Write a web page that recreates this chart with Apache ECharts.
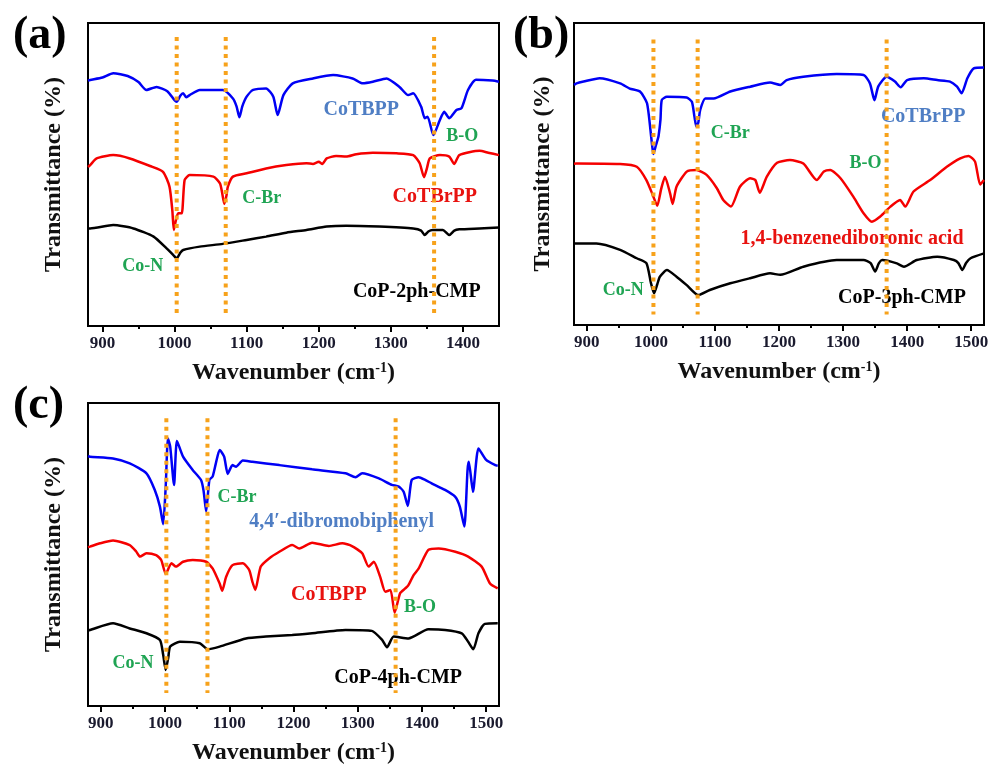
<!DOCTYPE html>
<html lang="en">
<head>
    <meta charset="UTF-8">
    <title>FTIR spectra</title>
    <script src="https://cdn.jsdelivr.net/npm/echarts@6/dist/echarts.min.js"></script>
    <style>
        body { margin: 0; background: #fff; }
        #chart { width: 993px; height: 769px; }
    </style>
</head>
<body>
<div id="chart"></div>
<script>
    // tick labels (wavenumber, cm-1)
    var ticksA = [900, 1000, 1100, 1200, 1300, 1400];
    var minorA = [950, 1050, 1150, 1250, 1350];
    var ticksBC = [900, 1000, 1100, 1200, 1300, 1400, 1500];
    var minorBC = [950, 1050, 1150, 1250, 1350, 1450];

    // (a) spectra  [wavenumber, transmittance (offset, a.u.)]
    var aBlue = [[880,81.0],[883,81.2],[900,82.0],[915,83.4],[935,82.5],[950,80.5],[961,77.9],[975,78.9],[990,77.5],[1000,74.5],[1003,74.0],[1008,76.0],[1012,76.8],[1016,75.5],[1021,76.2],[1035,77.9],[1067,77.9],[1081,75.1],[1086,72.5],[1090,68.9],[1094,72.5],[1100,75.7],[1109,77.9],[1127,78.4],[1137,75.7],[1143,69.6],[1151,76.2],[1164,80.1],[1192,81.7],[1220,82.8],[1247,81.7],[1261,80.1],[1275,80.6],[1294,81.7],[1312,78.9],[1324,76.2],[1331,76.8],[1342,72.4],[1347,68.6],[1351,69.1],[1359,63.0],[1368,68.0],[1374,70.7],[1381,68.6],[1391,71.3],[1398,71.9],[1407,77.9],[1418,81.3],[1441,81.0],[1450,80.6]];
    var aRed = [[880,52.5],[883,53.1],[892,55.3],[915,56.4],[938,55.3],[966,52.8],[984,50.9],[993,46.0],[997,38.0],[999,31.7],[1002,35.0],[1005,37.2],[1010,37.2],[1014,48.2],[1021,49.8],[1054,49.3],[1063,47.1],[1066,44.0],[1069,40.3],[1072,43.0],[1074,46.0],[1081,49.3],[1100,50.4],[1127,52.0],[1155,53.1],[1183,53.7],[1192,53.5],[1200,54.2],[1205,53.5],[1211,55.3],[1224,56.1],[1238,55.9],[1252,56.7],[1275,57.2],[1308,57.0],[1331,56.4],[1340,53.7],[1346,49.1],[1350,52.0],[1354,55.3],[1368,56.4],[1381,55.9],[1388,53.5],[1395,56.4],[1423,57.8],[1435,57.2],[1450,56.4]];
    var aBlack = [[880,32.2],[883,32.2],[915,33.3],[943,32.2],[971,29.5],[989,25.6],[998,23.5],[1003,22.3],[1008,24.2],[1012,25.1],[1035,26.2],[1067,27.1],[1100,28.4],[1127,29.5],[1155,30.8],[1183,31.7],[1211,32.8],[1238,33.1],[1284,32.8],[1331,32.2],[1342,31.5],[1347,30.0],[1352,31.2],[1358,31.7],[1372,31.7],[1381,30.0],[1388,31.5],[1395,31.9],[1423,32.2],[1450,32.5]];

    // (b) spectra
    var bBlue = [[880,79.5],[884,80.0],[895,80.6],[920,81.7],[952,80.0],[967,78.3],[983,77.3],[994,73.4],[1001,61.3],[1004,56.6],[1008,59.6],[1010,61.0],[1012,62.6],[1015,68.0],[1017,74.5],[1025,75.6],[1056,75.3],[1064,73.9],[1068,69.0],[1071,65.7],[1074,67.0],[1077,71.2],[1085,75.0],[1098,75.0],[1124,77.3],[1155,78.9],[1186,80.3],[1202,79.5],[1212,81.1],[1238,82.2],[1290,83.1],[1332,82.8],[1342,80.0],[1349,74.4],[1355,79.0],[1368,82.2],[1381,80.6],[1390,78.7],[1400,81.1],[1426,81.7],[1447,81.1],[1467,80.6],[1478,78.9],[1485,76.7],[1494,81.7],[1504,85.0],[1520,85.3]];
    var bRed = [[880,53.4],[884,53.5],[952,53.3],[978,52.4],[993,48.0],[1003,43.0],[1010,39.5],[1016,45.0],[1022,49.1],[1030,43.6],[1034,40.1],[1040,45.8],[1056,50.8],[1071,51.3],[1087,49.7],[1103,45.3],[1113,41.4],[1125,39.2],[1139,45.8],[1155,48.6],[1163,48.0],[1170,43.8],[1181,49.1],[1197,53.7],[1217,54.6],[1238,53.5],[1259,48.0],[1270,50.8],[1280,51.3],[1296,48.6],[1316,42.5],[1332,37.0],[1345,34.2],[1358,35.9],[1374,39.2],[1389,41.4],[1397,39.2],[1410,44.2],[1436,48.0],[1462,52.4],[1483,55.2],[1496,56.0],[1506,54.1],[1514,46.5],[1520,48.0]];
    var bBlack = [[880,27.0],[884,27.0],[915,27.0],[952,24.9],[978,22.1],[993,20.5],[1000,14.0],[1005,10.5],[1010,13.5],[1014,16.0],[1025,18.2],[1040,16.0],[1056,13.2],[1074,9.9],[1092,11.6],[1124,13.8],[1155,15.5],[1186,17.1],[1202,16.6],[1238,19.3],[1290,21.5],[1332,21.5],[1343,20.5],[1350,17.7],[1356,20.5],[1361,21.5],[1384,20.4],[1395,19.3],[1415,21.5],[1447,22.6],[1473,21.5],[1480,20.5],[1486,18.2],[1492,20.5],[1499,22.1],[1520,23.7]];

    // (c) spectra
    var cBlue = [[880,82.5],[883,82.3],[919,81.7],[945,80.1],[971,76.8],[984,71.3],[992,65.8],[997,60.0],[1001,72.4],[1004.5,88.3],[1008,85.6],[1014,72.9],[1018.5,87.5],[1028,82.3],[1043,77.9],[1056,74.6],[1060,71.0],[1064,64.2],[1069,74.6],[1074,75.7],[1079,80.0],[1085,84.5],[1092,82.3],[1097.6,76.6],[1105,79.5],[1110.5,79.0],[1121,81.0],[1136,80.6],[1178,79.5],[1229,78.1],[1281,76.8],[1296.6,75.5],[1307,76.8],[1333,75.1],[1353,73.0],[1364,72.4],[1371.5,70.7],[1378,66.0],[1384,74.6],[1395,75.5],[1405,74.6],[1415,73.5],[1436,71.3],[1451.6,69.1],[1459,65.8],[1466,59.2],[1471,77.9],[1473,80.6],[1479.5,70.7],[1488,85.0],[1500,81.2],[1514,79.5],[1518,79.3]];
    var cRed = [[880,52.4],[883,52.6],[899,53.7],[919,54.6],[945,53.1],[955,51.0],[961,49.3],[971,50.4],[986,49.8],[994,48.2],[1001,43.6],[1010,47.1],[1017,46.0],[1028,47.6],[1043,48.2],[1064,47.6],[1074,45.4],[1085,40.4],[1089,38.0],[1095,42.6],[1105,46.5],[1121,47.1],[1131,44.9],[1136,41.0],[1140.5,38.3],[1149,46.0],[1162,48.7],[1178,50.9],[1198,53.1],[1209,52.0],[1229,53.9],[1255,52.8],[1276,53.7],[1291,52.8],[1307,50.4],[1317,46.0],[1325,47.6],[1335,42.6],[1343,37.7],[1351,38.3],[1357.5,30.8],[1366,37.2],[1374,38.8],[1379,39.9],[1387,43.2],[1395,45.4],[1410,51.5],[1426,52.0],[1452,50.9],[1472,49.3],[1493,46.0],[1506,40.4],[1518,38.8]];
    var cBlack = [[880,25.0],[883,25.1],[919,27.3],[945,25.6],[971,24.0],[992,21.8],[997,17.0],[1001,11.9],[1005,16.0],[1008,19.6],[1023,21.2],[1054,20.7],[1066.6,18.7],[1085,19.6],[1126,22.3],[1157,22.9],[1198,23.4],[1229,24.0],[1281,25.1],[1322,24.8],[1338,21.8],[1345.6,19.4],[1356,22.9],[1379,22.3],[1410,25.3],[1436,25.1],[1462,24.0],[1472,21.2],[1480,18.7],[1488,24.0],[1498,27.1],[1518,27.3]];

    // band positions marked with dotted lines
    var bandsA = [1003, 1071, 1360];
    var bandsB = [1004, 1073, 1368];
    var bandsC = [1002, 1066, 1359];

    // text annotations [text, wavenumber, y]
    var namesA = [['CoTBPP', 1259, 71.3, 'blue'], ['CoTBrPP', 1361, 42.6, 'red'], ['CoP-2ph-CMP', 1336, 11.2, 'black'],
                  ['B-O', 1399, 62.7, 'green'], ['C-Br', 1121, 42.2, 'green'], ['Co-N', 956, 19.8, 'green']];
    var namesB = [['CoTBrPP', 1425, 68.9, 'blue'], ['1,4-benzenediboronic acid', 1314, 28.5, 'red'], ['CoP-3ph-CMP', 1392, 8.9, 'black'],
                  ['C-Br', 1124, 63.6, 'green'], ['B-O', 1335, 53.6, 'green'], ['Co-N', 957, 11.6, 'green']];
    var namesC = [['4,4\u2032-dibromobiphenyl', 1275, 60.7, 'blue'], ['CoTBPP', 1255, 36.6, 'red'], ['CoP-4ph-CMP', 1363, 9.2, 'black'],
                  ['C-Br', 1112, 69.0, 'green'], ['B-O', 1397, 32.7, 'green'], ['Co-N', 950, 14.2, 'green']];

    var FONT = 'Liberation Serif';
    var textColors = { blue: '#4f7ec4', red: '#e8120f', black: '#000', green: '#1fa453' };
    var lineColors = ['#0000f5', '#f50000', '#000'];

    var my_Chart = echarts.init(document.getElementById('chart'));

    var grids = [
        { left: 88, top: 23, width: 411, height: 303 },
        { left: 574, top: 23, width: 410, height: 302 },
        { left: 88, top: 403, width: 411, height: 303 }
    ];
    var ranges = [[880, 1450], [880, 1520], [880, 1520]];
    var majors = [ticksA, ticksBC, ticksBC];
    var minors = [minorA, minorBC, minorBC];
    var yNameGap = [22, 19, 22];

    var xAxes = [], yAxes = [], series = [];

    grids.forEach(function (g, i) {
        g.show = true;
        g.borderColor = '#000';
        g.borderWidth = 2;
        g.backgroundColor = 'transparent';

        xAxes.push({
            type: 'value', gridIndex: i, position: 'bottom', min: ranges[i][0], max: ranges[i][1],
            name: 'Wavenumber (cm{sup|-1})', nameLocation: 'middle', nameGap: 35,
            nameTextStyle: {
                fontFamily: FONT, fontWeight: 'bold', fontSize: 24, color: '#111',
                rich: { sup: { fontFamily: FONT, fontWeight: 'bold', fontSize: 14, verticalAlign: 'top', lineHeight: 14, padding: [0, 0, 12, 0] } }
            },
            axisLine: { lineStyle: { color: '#000', width: 2 } },
            axisTick: { customValues: majors[i], length: 6, lineStyle: { color: '#000', width: 2 } },
            axisLabel: {
                customValues: majors[i], fontFamily: FONT, fontWeight: 'bold', fontSize: 17, color: '#1a1a2e', margin: 9,
                formatter: function (v) { return String(v); }
            },
            splitLine: { show: false }
        });
        // minor ticks
        xAxes.push({
            type: 'value', gridIndex: i, position: 'bottom', min: ranges[i][0], max: ranges[i][1],
            axisLine: { show: false },
            axisTick: { customValues: minors[i], length: 3, lineStyle: { color: '#000', width: 2 } },
            axisLabel: { show: false },
            splitLine: { show: false }
        });
        yAxes.push({
            type: 'value', gridIndex: i, min: 0, max: 100,
            name: 'Transmittance (%)', nameLocation: 'middle', nameGap: yNameGap[i],
            nameTextStyle: { fontFamily: FONT, fontWeight: 'bold', fontSize: 24, color: '#111' },
            axisLine: { show: false }, axisTick: { show: false },
            axisLabel: { show: false }, splitLine: { show: false }
        });
    });

    var spectra = [[aBlue, aRed, aBlack], [bBlue, bRed, bBlack], [cBlue, cRed, cBlack]];
    var bands = [bandsA, bandsB, bandsC];
    var bandSpan = [[95.4, 4.3], [94.5, 3.5], [95.0, 4.3]];
    var names = [namesA, namesB, namesC];

    spectra.forEach(function (set, i) {
        set.forEach(function (d, k) {
            series.push({
                type: 'line', xAxisIndex: i * 2, yAxisIndex: i, data: d,
                showSymbol: false, smooth: 0.2, silent: true,
                lineStyle: { color: lineColors[k], width: 2.5 }, z: 2
            });
        });
        bands[i].forEach(function (wn) {
            series.push({
                type: 'line', xAxisIndex: i * 2, yAxisIndex: i,
                data: [[wn, bandSpan[i][0]], [wn, bandSpan[i][1]]],
                showSymbol: false, silent: true,
                lineStyle: { color: '#f7a21b', width: 4, type: [4, 4.5] }, z: 4
            });
        });
        series.push({
            type: 'scatter', xAxisIndex: i * 2, yAxisIndex: i, symbolSize: 0, silent: true, z: 3,
            itemStyle: { opacity: 1 },
            data: names[i].map(function (n) {
                return {
                    value: [n[1], n[2]],
                    label: {
                        show: true, position: 'inside', formatter: n[0], opacity: 1,
                        fontFamily: FONT, fontWeight: 'bold',
                        fontSize: n[3] === 'green' ? 18 : 20,
                        color: textColors[n[3]]
                    }
                };
            })
        });
    });

    var option = {
        animation: false,
        title: [
            { text: '(a)', left: 8, top: 8 },
            { text: '(b)', left: 508, top: 8 },
            { text: '(c)', left: 8, top: 378 }
        ].map(function (t) {
            t.textStyle = { fontFamily: FONT, fontWeight: 'bold', fontSize: 46, color: '#000' };
            return t;
        }),
        grid: grids,
        xAxis: xAxes,
        yAxis: yAxes,
        series: series
    };
    my_Chart.setOption(option);
</script>
</body>
</html>
